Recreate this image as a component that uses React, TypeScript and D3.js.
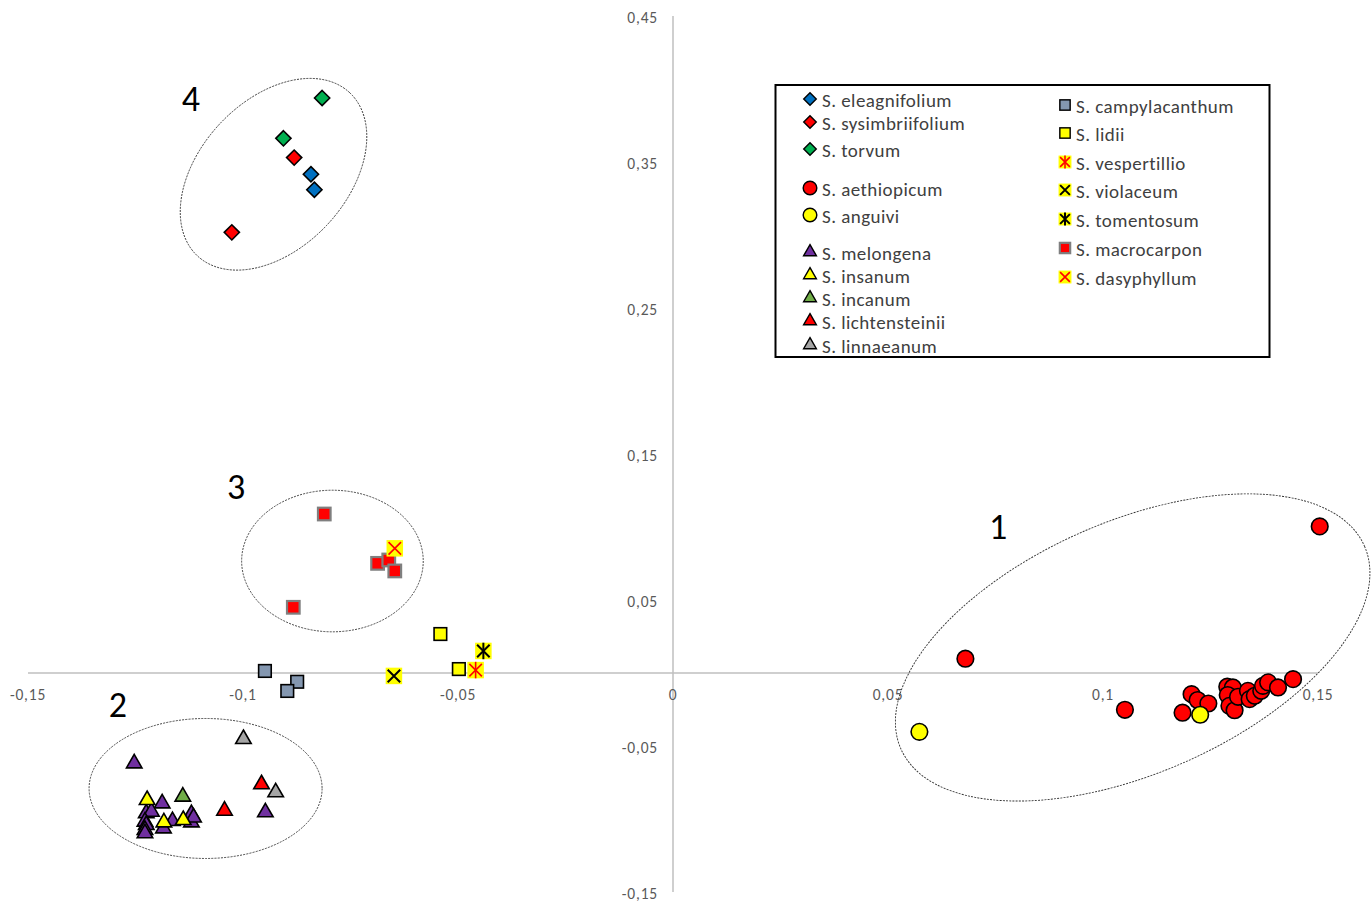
import React from 'react';
import * as d3 from 'd3';

const W = 1372;
const H = 901;

type Pt = [number, number];

// PCA scores per species (PC1, PC2)
const eleagnifolium: Pt[] = [[-0.0842, 0.3416], [-0.0834, 0.331]];
const sysimbriifolium: Pt[] = [[-0.0881, 0.353], [-0.1026, 0.3018]];
const torvum: Pt[] = [[-0.0816, 0.3938], [-0.0906, 0.3662]];
const aethiopicum: Pt[] = [
  [0.1504, 0.1004], [0.068, 0.0098], [0.1051, -0.0252], [0.1185, -0.0272],
  [0.1206, -0.0145], [0.122, -0.0185], [0.1245, -0.0209], [0.1289, -0.0094],
  [0.1302, -0.0099], [0.129, -0.0151], [0.1294, -0.0225], [0.1306, -0.0255],
  [0.1314, -0.0163], [0.1337, -0.0122], [0.1341, -0.0179], [0.1353, -0.0156],
  [0.1368, -0.0122], [0.1372, -0.0088], [0.1384, -0.0064], [0.1407, -0.0099],
  [0.1442, -0.0042],
];
const anguivi: Pt[] = [[0.0573, -0.0403], [0.1226, -0.0286]];
const melongena: Pt[] = [
  [-0.1253, -0.0619], [-0.1188, -0.0893], [-0.0948, -0.0954], [-0.112, -0.0966],
  [-0.1164, -0.1014], [-0.112, -0.1023], [-0.1225, -0.0961], [-0.1213, -0.095],
  [-0.1228, -0.1018], [-0.1225, -0.1041], [-0.1228, -0.1075], [-0.1185, -0.1064],
  [-0.1228, -0.1098], [-0.1115, -0.099],
];
const insanum: Pt[] = [[-0.1223, -0.087], [-0.1139, -0.1007], [-0.1184, -0.1023]];
const incanum: Pt[] = [[-0.114, -0.0847]];
const lichtensteinii: Pt[] = [[-0.0957, -0.0762], [-0.1043, -0.0943]];
const linnaeanum: Pt[] = [[-0.0999, -0.0452], [-0.0924, -0.0817]];
const campylacanthum: Pt[] = [[-0.0949, 0.0014], [-0.0874, -0.006], [-0.0897, -0.0123]];
const lidii: Pt[] = [[-0.0541, 0.0267], [-0.0498, 0.0027]];
const vespertillio: Pt[] = [[-0.0459, 0.002]];
const violaceum: Pt[] = [[-0.0649, -0.002]];
const tomentosum: Pt[] = [[-0.0441, 0.0151]];
const macrocarpon: Pt[] = [
  [-0.0811, 0.1089], [-0.0687, 0.0751], [-0.0661, 0.0774], [-0.0647, 0.0699], [-0.0883, 0.045],
];
const dasyphyllum: Pt[] = [[-0.0647, 0.0854]];

const xTicks = [-0.15, -0.1, -0.05, 0, 0.05, 0.1, 0.15];
const yTicks = [0.45, 0.35, 0.25, 0.15, 0.05, -0.05, -0.15];

// Group outlines: centre in score units, radii in pixels, rotation in degrees
const groups = [
  { label: '1', cx: 0.1069, cy: 0.0175, rx: 253, ry: 126, rot: -23.6, lx: 0.0756, ly: 0.1 },
  { label: '2', cx: -0.1087, cy: -0.0791, rx: 116.5, ry: 70, rot: 0, lx: -0.1291, ly: -0.0219 },
  { label: '3', cx: -0.0792, cy: 0.0767, rx: 90.8, ry: 70.8, rot: 0, lx: -0.1016, ly: 0.1274 },
  { label: '4', cx: -0.0929, cy: 0.3416, rx: 111.6, ry: 73.7, rot: -47, lx: -0.1121, ly: 0.3932 },
];

type Shape = 'diamond' | 'circle' | 'triangle' | 'square' | 'xsquare';
interface Series {
  name: string;
  shape: Shape;
  fill: string;
  stroke?: string;
  glyph?: 'x' | 'star';
  glyphColor?: string;
  points: Pt[];
  col: number;
  row: number;
}

const YELLOW = '#ffff00';
const RED = '#ff0000';

const series: Series[] = [
  { name: 'S. eleagnifolium', shape: 'diamond', fill: '#0070c0', stroke: '#000', points: eleagnifolium, col: 0, row: 0 },
  { name: 'S. sysimbriifolium', shape: 'diamond', fill: RED, stroke: '#000', points: sysimbriifolium, col: 0, row: 1 },
  { name: 'S. torvum', shape: 'diamond', fill: '#00b050', stroke: '#000', points: torvum, col: 0, row: 2 },
  { name: 'S. aethiopicum', shape: 'circle', fill: RED, stroke: '#000', points: aethiopicum, col: 0, row: 3 },
  { name: 'S. anguivi', shape: 'circle', fill: YELLOW, stroke: '#000', points: anguivi, col: 0, row: 4 },
  { name: 'S. melongena', shape: 'triangle', fill: '#7030a0', stroke: '#000', points: melongena, col: 0, row: 5 },
  { name: 'S. insanum', shape: 'triangle', fill: YELLOW, stroke: '#000', points: insanum, col: 0, row: 6 },
  { name: 'S. incanum', shape: 'triangle', fill: '#70ad47', stroke: '#000', points: incanum, col: 0, row: 7 },
  { name: 'S. lichtensteinii', shape: 'triangle', fill: RED, stroke: '#000', points: lichtensteinii, col: 0, row: 8 },
  { name: 'S. linnaeanum', shape: 'triangle', fill: '#a5a5a5', stroke: '#000', points: linnaeanum, col: 0, row: 9 },
  { name: 'S. campylacanthum', shape: 'square', fill: '#8497b0', stroke: '#000', points: campylacanthum, col: 1, row: 0 },
  { name: 'S. lidii', shape: 'square', fill: YELLOW, stroke: '#000', points: lidii, col: 1, row: 1 },
  { name: 'S. vespertillio', shape: 'xsquare', fill: YELLOW, glyph: 'star', glyphColor: RED, points: vespertillio, col: 1, row: 2 },
  { name: 'S. violaceum', shape: 'xsquare', fill: YELLOW, glyph: 'x', glyphColor: '#000', points: violaceum, col: 1, row: 3 },
  { name: 'S. tomentosum', shape: 'xsquare', fill: YELLOW, glyph: 'star', glyphColor: '#000', points: tomentosum, col: 1, row: 4 },
  { name: 'S. macrocarpon', shape: 'square', fill: RED, stroke: '#7f7f7f', points: macrocarpon, col: 1, row: 5 },
  { name: 'S. dasyphyllum', shape: 'xsquare', fill: YELLOW, glyph: 'x', glyphColor: RED, points: dasyphyllum, col: 1, row: 6 },
];

// Legend row positions (column 0 has gaps between marker families)
const legendLeftRows = [99, 122, 149, 188, 215, 252, 275, 298, 321, 345];
const legendRightRows = [105, 133, 162, 190, 219, 248, 277];

const x = d3.scaleLinear().domain([-0.15, 0.15]).range([28, 1318]);
const y = d3.scaleLinear().domain([-0.15, 0.45]).range([892, 16]);

const fmt = (v: number) => String(v).replace('.', ',');

function Marker({ s, cx, cy, k }: { s: Series; cx: number; cy: number; k: number }) {
  const sw = 1.6 * (k < 1 ? 0.9 : 1);
  switch (s.shape) {
    case 'diamond': {
      const h = 7.6 * k;
      const d = `M${cx},${cy - h}L${cx + h},${cy}L${cx},${cy + h}L${cx - h},${cy}Z`;
      return <path d={d} fill={s.fill} stroke={s.stroke} strokeWidth={sw} strokeLinejoin="miter" />;
    }
    case 'circle':
      return <circle cx={cx} cy={cy} r={8.3 * k} fill={s.fill} stroke={s.stroke} strokeWidth={sw} />;
    case 'triangle': {
      const w = 15.5 * k;
      const h = 13.5 * k;
      const d = `M${cx},${cy - (h * 2) / 3}L${cx + w / 2},${cy + h / 3}L${cx - w / 2},${cy + h / 3}Z`;
      return <path d={d} fill={s.fill} stroke={s.stroke} strokeWidth={sw} strokeLinejoin="miter" />;
    }
    case 'square': {
      const a = 12.6 * k;
      return (
        <rect x={cx - a / 2} y={cy - a / 2} width={a} height={a} fill={s.fill} stroke={s.stroke}
          strokeWidth={s.stroke === '#7f7f7f' ? 2.2 : sw} />
      );
    }
    case 'xsquare': {
      const a = 16.5 * k;
      const g = a / 2 - 2 * k;
      return (
        <g>
          <rect x={cx - a / 2} y={cy - a / 2} width={a} height={a} fill={s.fill} />
          <path d={`M${cx - g},${cy - g}L${cx + g},${cy + g}M${cx + g},${cy - g}L${cx - g},${cy + g}`}
            stroke={s.glyphColor} strokeWidth={s.glyphColor === RED ? 1.6 : 2} />
          {s.glyph === 'star' && (
            <path d={`M${cx},${cy - a / 2}L${cx},${cy + a / 2}`} stroke={s.glyphColor}
              strokeWidth={s.glyphColor === RED ? 1.6 : 2} />
          )}
        </g>
      );
    }
  }
  return null;
}

export default function App() {
  const font = 'Carlito, Lato, "Open Sans", sans-serif';
  return (
    <svg width={W} height={H} viewBox={`0 0 ${W} ${H}`}
      style={{ position: 'absolute', left: 0, top: 0, background: '#fff' }}
      fontFamily={font}>
      <rect width={W} height={H} fill="#fff" />

      {/* axes through the origin */}
      <line x1={x(-0.15)} x2={x(0.15)} y1={y(0)} y2={y(0)} stroke="#bfbfbf" strokeWidth={1.5} />
      <line x1={x(0)} x2={x(0)} y1={y(0.45)} y2={y(-0.15)} stroke="#bfbfbf" strokeWidth={1.5} />

      {xTicks.map((t) => (
        <text key={`x${t}`} x={x(t)} y={y(0) + 21} textAnchor="middle" dominantBaseline="central"
          fontSize={15.5} letterSpacing={0.8} fill="#595959">
          {fmt(t)}
        </text>
      ))}
      {yTicks.map((t) => (
        <text key={`y${t}`} x={x(0) - 15} y={y(t) + 1} textAnchor="end" dominantBaseline="central"
          fontSize={15.5} letterSpacing={0.8} fill="#595959">
          {fmt(t)}
        </text>
      ))}

      {/* group outlines */}
      {groups.map((g) => (
        <ellipse key={`e${g.label}`} cx={0} cy={0} rx={g.rx} ry={g.ry}
          transform={`translate(${x(g.cx)},${y(g.cy)}) rotate(${g.rot})`}
          fill="none" stroke="#333" strokeWidth={0.9} strokeDasharray="2 1.2" />
      ))}
      {groups.map((g) => (
        <text key={`l${g.label}`} x={x(g.lx)} y={y(g.ly)} textAnchor="middle" dominantBaseline="central"
          fontSize={36} fill="#000">
          {g.label}
        </text>
      ))}

      {/* data points */}
      {series.map((s) => (
        <g key={s.name}>
          {s.points.map((p, i) => (
            <Marker key={i} s={s} cx={x(p[0])} cy={y(p[1])} k={1} />
          ))}
        </g>
      ))}

      {/* legend */}
      <rect x={775.5} y={85} width={494} height={272} fill="#fff" stroke="#000" strokeWidth={2} />
      {series.map((s) => {
        const ly = s.col === 0 ? legendLeftRows[s.row] : legendRightRows[s.row];
        const mx = s.col === 0 ? 810 : 1065;
        const tx = s.col === 0 ? 822 : 1076;
        return (
          <g key={`lg${s.name}`}>
            <Marker s={s} cx={mx} cy={ly} k={s.shape === 'xsquare' ? 0.78 : 0.82} />
            <text x={tx} y={ly + 1} dominantBaseline="central" fontSize={19} letterSpacing={0.45}
              fill="#404040">
              {s.name}
            </text>
          </g>
        );
      })}
    </svg>
  );
}
